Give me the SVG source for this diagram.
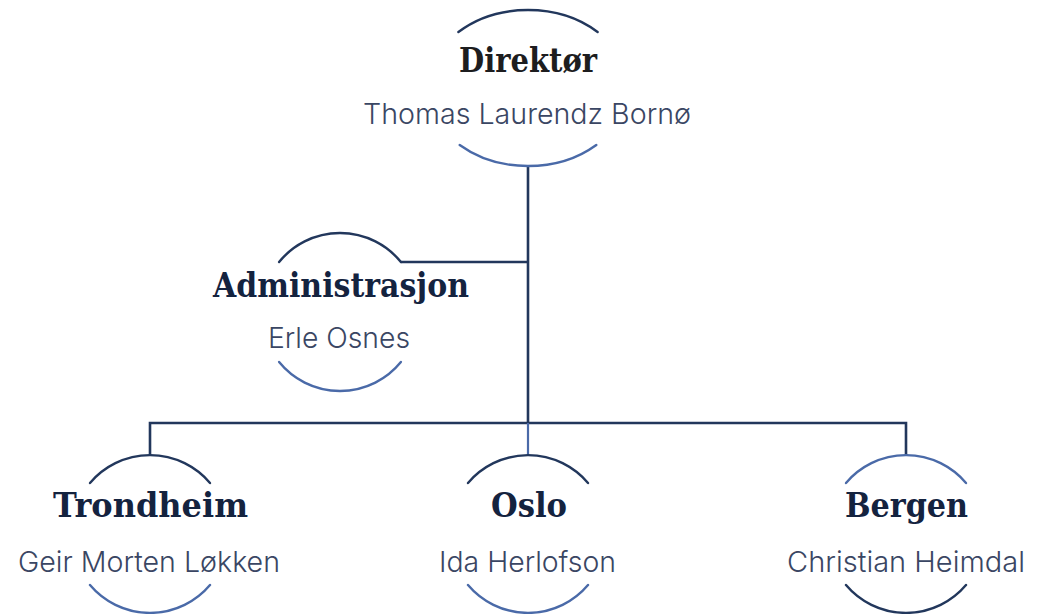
<svg xmlns="http://www.w3.org/2000/svg" width="1044" height="614" viewBox="0 0 1044 614">
<style>
.bg{fill:#ffffff}
.ln{fill:none;stroke:#22375c;stroke-width:2.6;stroke-linecap:butt}
.dark{fill:none;stroke:#22375c;stroke-width:2.4;stroke-linecap:round}
.blue{fill:none;stroke:#4a6aa8;stroke-width:2.4;stroke-linecap:round}
.h{font-family:"DejaVu Serif","Liberation Serif",serif;font-weight:bold;font-size:33px;fill:#14233f;text-anchor:middle}
.hd{fill:#1d1d1f;font-weight:bold}
.s{font-family:"Inter","Roboto","Liberation Sans",sans-serif;font-weight:300;font-size:28.5px;fill:#3a4663;text-anchor:middle}
</style>
<rect class="bg" x="0" y="0" width="1044" height="614"/>
<g id="connectors">
<path class="ln" d="M528 166 V423"/>
<path class="ln" d="M401 262 H528"/>
<path class="ln" d="M150 455 V423 H906 V455"/>
<path d="M528 423 V455" fill="none" stroke="#4a6aa8" stroke-width="2.2"/>
</g>
<g id="node-direktor">
<path class="dark" d="M458.4 32 A100 78 0 0 1 597.6 32"/>
<path class="blue" d="M459.7 145 A100 78 0 0 0 596.3 145"/>
<text class="h hd" x="528" y="71.5" textLength="138" lengthAdjust="spacingAndGlyphs">Direktør</text>
<text class="s" x="527" y="124" textLength="328" lengthAdjust="spacingAndGlyphs">Thomas Laurendz Bornø</text>
</g>
<g id="node-administrasjon">
<path class="dark" d="M279.1 262 A78.5 78.5 0 0 1 400.9 262"/>
<path class="blue" d="M279.1 362 A78.5 78.5 0 0 0 400.9 362"/>
<text class="h" x="341" y="297" textLength="256" lengthAdjust="spacingAndGlyphs">Administrasjon</text>
<text class="s" x="339" y="348" textLength="142" lengthAdjust="spacingAndGlyphs">Erle Osnes</text>
</g>
<g id="node-trondheim">
<path class="dark" d="M90 483 A78.5 78.5 0 0 1 210 483"/>
<path class="blue" d="M90 585 A78.5 78.5 0 0 0 210 585"/>
<text class="h" x="150.5" y="517" textLength="195" lengthAdjust="spacingAndGlyphs">Trondheim</text>
<text class="s" x="149" y="572" textLength="262" lengthAdjust="spacingAndGlyphs">Geir Morten Løkken</text>
</g>
<g id="node-oslo">
<path class="dark" d="M468 483 A78.5 78.5 0 0 1 588 483"/>
<path class="blue" d="M468 585 A78.5 78.5 0 0 0 588 585"/>
<text class="h" x="529" y="517" textLength="76" lengthAdjust="spacingAndGlyphs">Oslo</text>
<text class="s" x="527.5" y="572" textLength="177" lengthAdjust="spacingAndGlyphs">Ida Herlofson</text>
</g>
<g id="node-bergen">
<path class="blue" d="M846 483 A78.5 78.5 0 0 1 966 483"/>
<path class="dark" d="M846 585 A78.5 78.5 0 0 0 966 585"/>
<text class="h" x="906.5" y="517" textLength="123" lengthAdjust="spacingAndGlyphs">Bergen</text>
<text class="s" x="906" y="572" textLength="238" lengthAdjust="spacingAndGlyphs">Christian Heimdal</text>
</g>
</svg>
